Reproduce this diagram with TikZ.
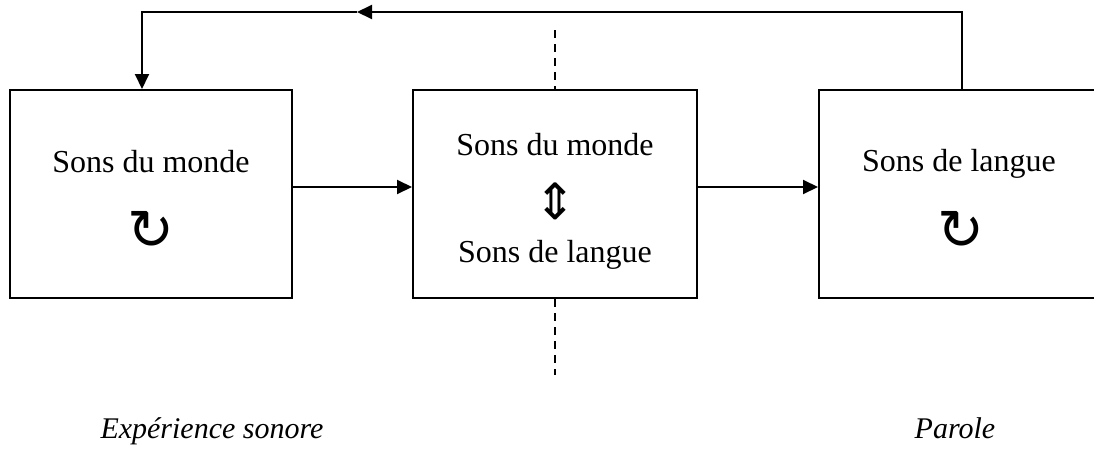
\documentclass[tikz,border=0pt]{standalone}
\usepackage{fontspec}
\setmainfont{Liberation Serif}
\newfontfamily\symfont{DejaVu Sans}
\usetikzlibrary{arrows.meta}
\begin{document}
\begin{tikzpicture}[x=1pt,y=-1pt,
  box/.style={draw,line width=2pt,minimum height=208pt,inner sep=0pt},
  lbl/.style={font=\fontsize{32}{38}\selectfont,inner sep=0pt,anchor=base},
  ital/.style={font=\fontsize{30}{36}\selectfont\itshape,inner sep=0pt,anchor=base},
  sym/.style={font=\symfont\fontsize{56}{60}\selectfont,inner sep=0pt},
  dsym/.style={font=\symfont\fontsize{50}{54}\selectfont,inner sep=0pt},
  conn/.style={line width=2pt,-{Triangle[length=15pt,width=14pt]}},
  sep/.style={line width=2pt,dash pattern=on 8pt off 6pt}]
\useasboundingbox (0,0) rectangle (1094,450);
\clip (0,0) rectangle (1094,450);
\node[box,minimum width=282pt] (L) at (151,194) {};
\node[box,minimum width=284pt] (M) at (555,194) {};
\node[box,minimum width=292pt] (R) at (965,194) {};
\node[lbl] (Lt) at (151,172) {Sons du monde};
\node[sym] (Ls) at (151,230) {↻};
\node[lbl] (Mt1) at (555,155) {Sons du monde};
\node[dsym] (Ms) at (555,201) {⇕};
\node[lbl] (Mt2) at (555,262) {Sons de langue};
\node[lbl] (Rt) at (959,171) {Sons de langue};
\node[sym] (Rs) at (961,230) {↻};
\node[ital] (E) at (212,438) {Expérience sonore};
\node[ital] (P) at (955,438) {Parole};
\draw[conn] ([yshift=7pt]L.east) -- ([yshift=7pt]M.west);
\draw[conn] ([yshift=7pt]M.east) -- ([yshift=7pt]R.west);
\coordinate (top) at (357,12);
\draw[conn] ([xshift=-3pt]R.north) |- (top);
\draw[conn] (top) -| ([xshift=-9pt]L.north);
\draw[sep] (555,30) -- (M.north);
\draw[sep] (M.south) -- (555,375);
\end{tikzpicture}
\end{document}
